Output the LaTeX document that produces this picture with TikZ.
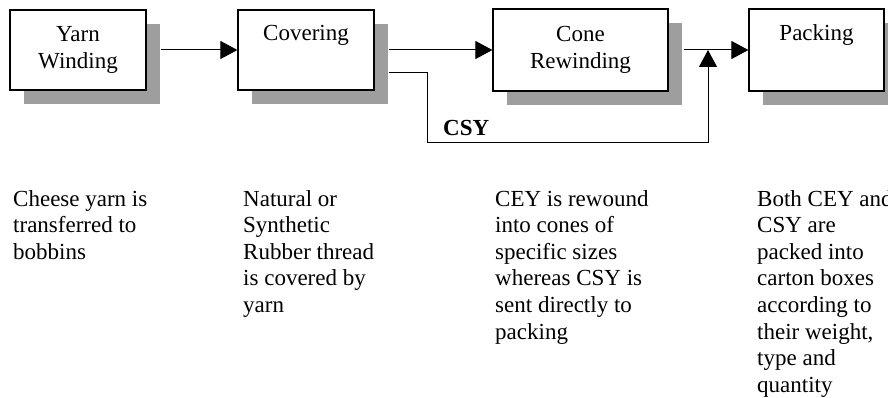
\documentclass[tikz,border=0pt]{standalone}
\usepackage{fontspec}
\setmainfont{Liberation Serif}
\usetikzlibrary{arrows.meta,shadows,calc}
\begin{document}
\begin{tikzpicture}[x=1pt,y=-1pt,
  every node/.style={inner sep=0pt, font=\fontsize{23}{26.6}\selectfont},
  procbox/.style={draw, line width=1.2pt, fill=white, align=center,
    drop shadow={shadow xshift=14pt, shadow yshift=-14pt, fill=black!38, opacity=1}},
  conn/.style={line width=1pt},
  tip/.style={-{Triangle[length=17pt,width=18pt]}},
  desc/.style={anchor=north west, align=left},
  lbl/.style={anchor=base west, font=\fontsize{23}{26.6}\selectfont\bfseries}]
\useasboundingbox (0,0) rectangle (888,398);
\node[procbox, minimum width=136pt, minimum height=80pt] (b1) at (78,50) {Yarn\\Winding};
\node[procbox, minimum width=136pt, minimum height=80pt] (b2) at (306,50) {Covering\\\strut};
\node[procbox, minimum width=175pt, minimum height=82pt] (b3) at (580.5,50) {Cone\\Rewinding};
\node[procbox, minimum width=135pt, minimum height=82pt] (b4) at (816.5,50) {Packing\\\strut};
\coordinate (j) at (708,50);
\coordinate (c1) at (427,143);
\draw[conn, tip, shorten <=14pt] (b1.east) -- (b2.west);
\draw[conn, tip, shorten <=14pt] (b2.east) -- (b3.west);
\draw[conn, tip, shorten <=15pt] (b3.east) -- (b4.west);
\draw[conn, tip, shorten <=14pt] ([yshift=18pt]b2.south east) -| (c1) -| (j);
\node[lbl] (csy) at (443,136) {CSY};
\node[desc] (d1) at (13,190) {Cheese yarn is\\transferred to\\bobbins};
\node[desc] (d2) at (243,190) {Natural or\\Synthetic\\Rubber thread\\is covered by\\yarn};
\node[desc] (d3) at (495,190) {CEY is rewound\\into cones of\\specific sizes\\whereas CSY is\\sent directly to\\packing};
\node[desc] (d4) at (757,190) {Both CEY and\\CSY are\\packed into\\carton boxes\\according to\\their weight,\\type and\\quantity};
\end{tikzpicture}
\end{document}
